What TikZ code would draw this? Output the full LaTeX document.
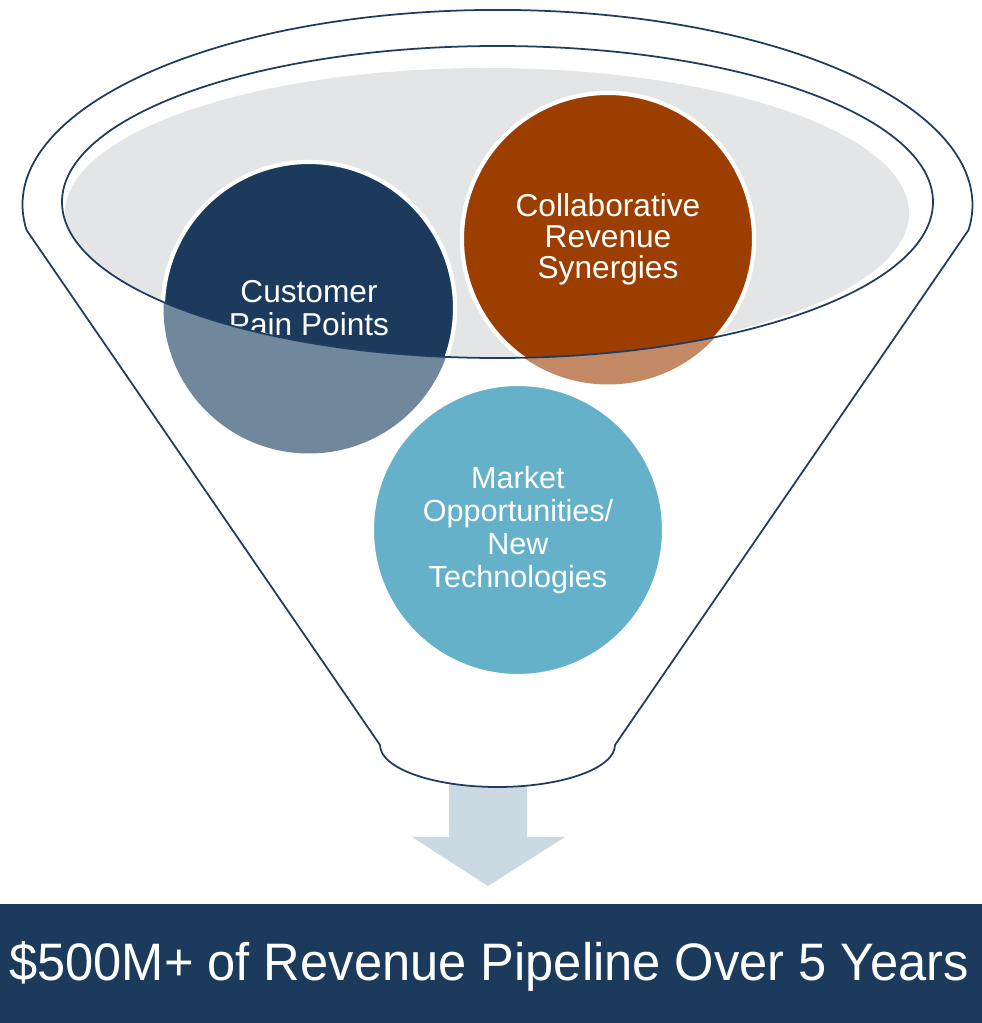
\documentclass[tikz,border=0pt]{standalone}
\usepackage{fontspec}
\setmainfont{Liberation Sans}

\definecolor{navy}{HTML}{1B3A5C}
\definecolor{navylight}{HTML}{71879B}
\definecolor{rust}{HTML}{9C3E00}
\definecolor{rustlight}{HTML}{C48A66}
\definecolor{skyblue}{HTML}{64B1C9}
\definecolor{rimgray}{HTML}{E4E5E7}
\definecolor{rimline}{HTML}{1F3D5F}
\definecolor{arrowblue}{HTML}{CBD9E3}

\tikzset{
  funnel/.style={draw=rimline, line width=.5pt},
  bubble/.style={circle, minimum size=2.92cm, inner sep=0pt, draw=white,
    line width=1.2pt, text=white, align=center,
    font=\fontsize{9}{9.4}\selectfont},
}

\begin{document}
\begin{tikzpicture}[x=0.01cm, y=0.01cm]
  \useasboundingbox (0,0) rectangle (982,1023);

  % arrow out of the funnel
  \fill[arrowblue] (449,250) -- (449,186) -- (412,186) -- (488,137)
    -- (565,186) -- (527,186) -- (527,250) -- cycle;

  % funnel body
  \fill[white] (26.5,793) arc[start angle=187.4, end angle=-7.4, x radius=475, y radius=195]
    -- (615,278) arc[start angle=0, end angle=-180, x radius=117.5, y radius=42] -- cycle;

  % gray inside the rim
  \begin{scope}
    \clip (497.5,821) ellipse[x radius=435.5, y radius=156];
    \fill[rimgray] (487,810) ellipse[x radius=422, y radius=145];
  \end{scope}

  \node[bubble, fill=navy] (cust) at (309,715) {Customer\\Pain Points};
  \node[bubble, fill=rust, font=\fontsize{9}{8.8}\selectfont] (collab) at (608,784)
    {Collaborative\\Revenue\\Synergies};

  % lower parts seen through the front of the funnel
  \begin{scope}
    \clip (62,821) arc[start angle=180, end angle=360, x radius=435.5, y radius=156]
      -- (982,821) -- (982,0) -- (0,0) -- (0,821) -- cycle;
    \fill[navylight] (cust.center) circle[radius=145.5];
    \fill[rustlight] (collab.center) circle[radius=145.5];
  \end{scope}

  % outline
  \draw[funnel] (26.5,793) arc[start angle=187.4, end angle=-7.4, x radius=475, y radius=195]
    -- (615,278) arc[start angle=0, end angle=-180, x radius=117.5, y radius=42] -- cycle;
  \draw[funnel] (497.5,821) ellipse[x radius=435.5, y radius=156];

  \node[bubble, fill=skyblue, font=\fontsize{8.7}{9.4}\selectfont] (market) at (518,493)
    {Market\\Opportunities/\\New\\Technologies};

  % result bar
  \fill[navy] (0,0) rectangle (982,119);
  \node[anchor=base, text=white, font=\fontsize{15}{18}\selectfont] (pipeline) at (489,43)
    {\scalebox{0.96}[1]{\$500M+ of Revenue Pipeline Over 5 Years}};
\end{tikzpicture}
\end{document}
